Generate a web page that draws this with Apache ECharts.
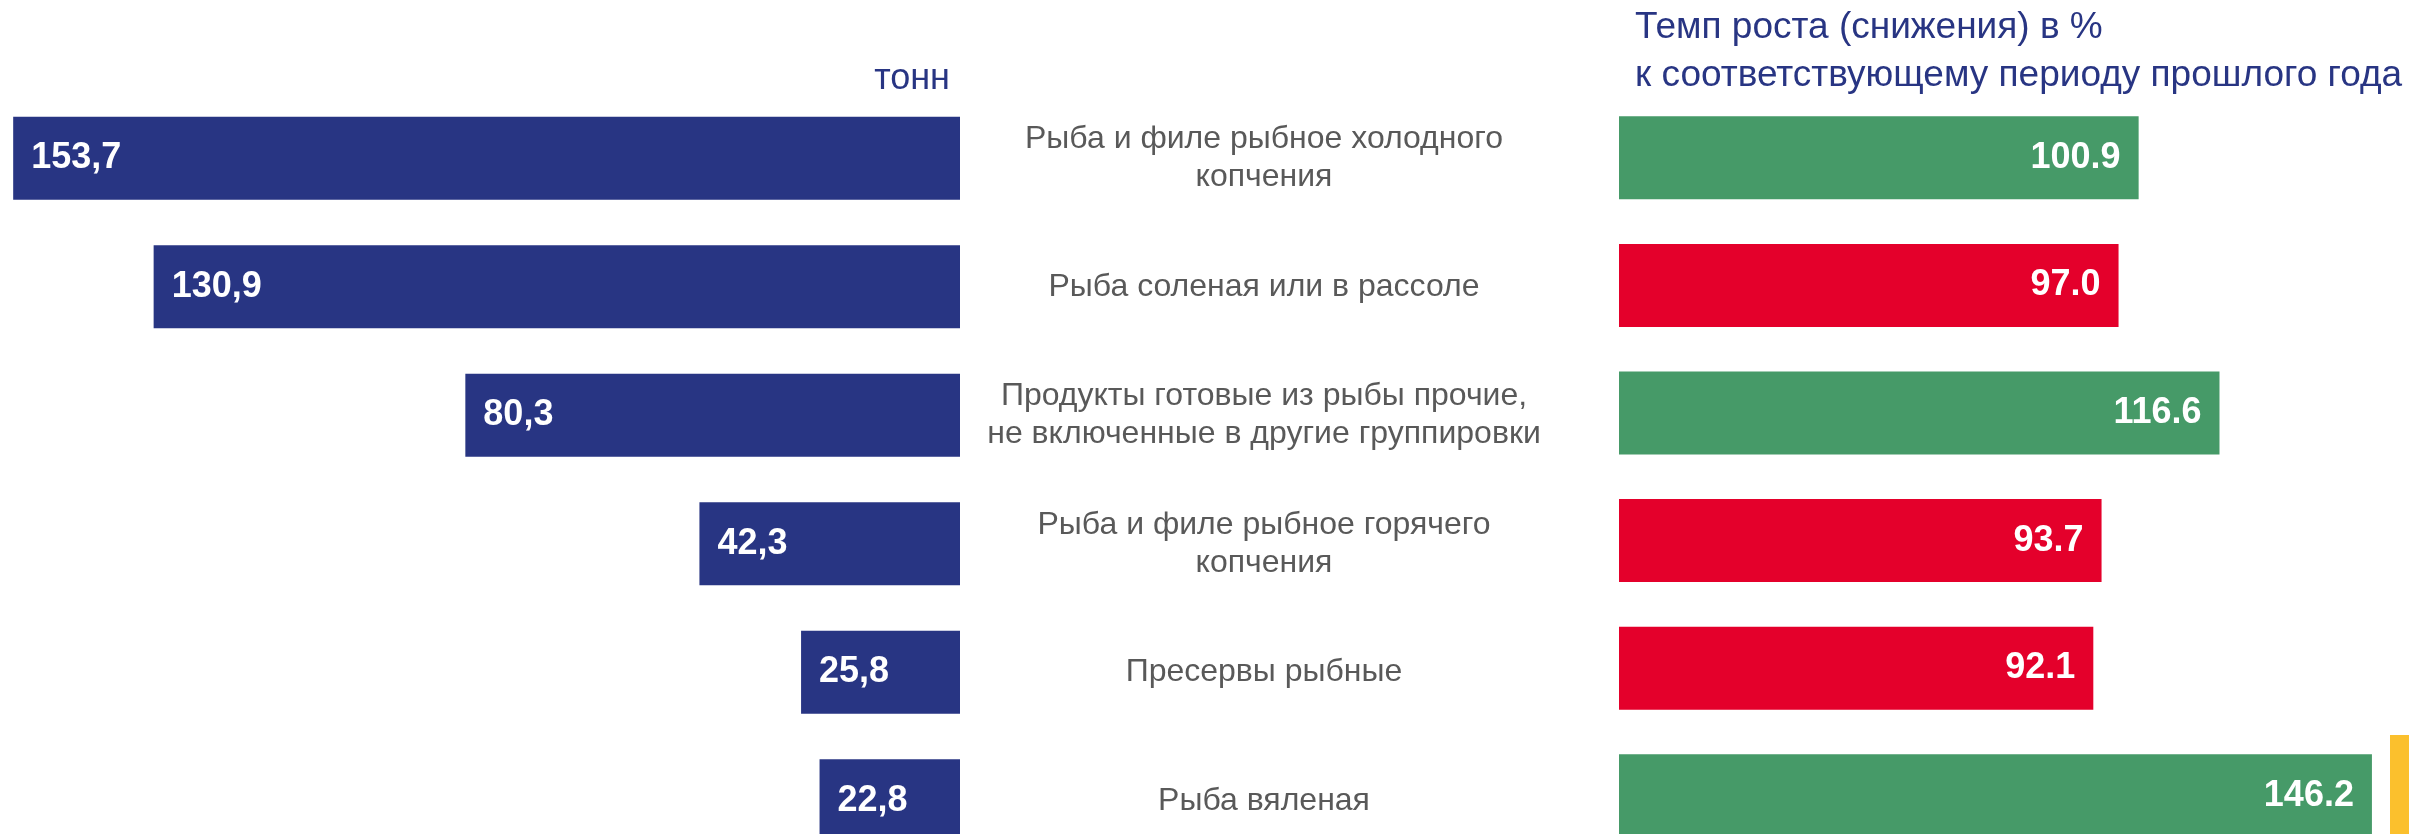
<!DOCTYPE html>
<html>
<head>
<meta charset="utf-8">
<script src="https://cdn.jsdelivr.net/npm/echarts@6/dist/echarts.min.js"></script>
<style>
html,body{margin:0;padding:0;background:#fff;}
#c{width:2409px;height:834px;}
</style>
</head>
<body>
<div id="c"></div>
<script>
const categories = [
  'Рыба и филе рыбное холодного\nкопчения',
  'Рыба соленая или в рассоле',
  'Продукты готовые из рыбы прочие,\nне включенные в другие группировки',
  'Рыба и филе рыбное горячего\nкопчения',
  'Пресервы рыбные',
  'Рыба вяленая'
];
const tonnes = [153.7, 130.9, 80.3, 42.3, 25.8, 22.8];
const growth = [100.9, 97.0, 116.6, 93.7, 92.1, 146.2];
const unitLabel = 'тонн';
const growthTitle = 'Темп роста (снижения) в %\nк соответствующему периоду прошлого года';

const NAVY = '#283583', GREEN = '#469A68', RED = '#E4002B', YELLOW = '#FBC02D';
const FONT = '"Liberation Sans", Arial, sans-serif';

const chart = echarts.init(document.getElementById('c'), null, {renderer: 'canvas'});
chart.setOption({
  animation: false,
  backgroundColor: '#ffffff',
  textStyle: {fontFamily: FONT},
  title: [
    {text: unitLabel, right: 2409 - 950, top: 61, padding: 0,
     textStyle: {color: NAVY, fontSize: 36, fontWeight: 'normal', fontFamily: FONT}},
    {text: growthTitle, left: 1635, top: 4, padding: 0,
     textStyle: {color: NAVY, fontSize: 37, fontWeight: 'normal', lineHeight: 48, fontFamily: FONT}}
  ],
  graphic: [
    {type: 'rect', left: 2390, top: 735, shape: {width: 19, height: 99}, style: {fill: YELLOW}, silent: true}
  ],
  grid: [
    {left: 0, top: 94, width: 960, height: 771, containLabel: false, outerBoundsMode: 'none'},
    {left: 1619, top: 94, width: 772.5, height: 765.6, containLabel: false, outerBoundsMode: 'none'}
  ],
  xAxis: [
    {gridIndex: 0, type: 'value', min: 0, max: 155.84, inverse: true, show: false},
    {gridIndex: 1, type: 'value', min: 0, max: 150, show: false}
  ],
  yAxis: [
    {gridIndex: 0, type: 'category', data: categories, inverse: true, position: 'right',
     axisLine: {show: false}, axisTick: {show: false}, splitLine: {show: false},
     axisLabel: {show: true, align: 'center', margin: 304, color: '#595959', fontSize: 32,
                 lineHeight: 38, fontFamily: FONT}},
    {gridIndex: 1, type: 'category', data: categories, inverse: true, show: false}
  ],
  series: [
    {type: 'bar', xAxisIndex: 0, yAxisIndex: 0, data: tonnes, barWidth: 83,
     itemStyle: {color: NAVY},
     label: {show: true, position: 'insideLeft', distance: 18, color: '#fff', fontSize: 36,
             fontWeight: 'bold', fontFamily: FONT,
             formatter: p => p.value.toFixed(1).replace('.', ',')}},
    {type: 'bar', xAxisIndex: 1, yAxisIndex: 1, barWidth: 83,
     data: growth.map(v => ({value: v, itemStyle: {color: v >= 100 ? GREEN : RED}})),
     label: {show: true, position: 'insideRight', distance: 18, color: '#fff', fontSize: 36,
             fontWeight: 'bold', fontFamily: FONT,
             formatter: p => p.value.toFixed(1)}}
  ]
});
</script>
</body>
</html>
